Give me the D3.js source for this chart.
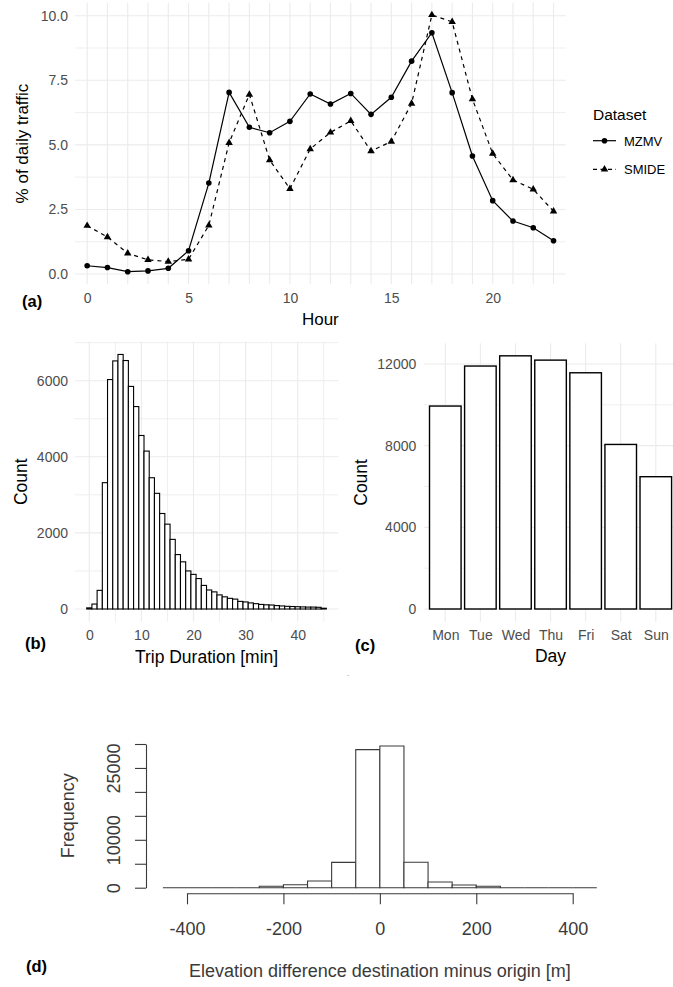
<!DOCTYPE html>
<html><head><meta charset="utf-8">
<script src="https://cdn.jsdelivr.net/npm/d3@7"></script>
<style>
body{margin:0;background:#fff}
svg{display:block;font-family:"Liberation Sans",Arial,Helvetica,sans-serif}
</style>
</head><body>
<svg id="chart" width="673" height="987"></svg>
<script>
// ---------- DATA ----------
const hours = [0,1,2,3,4,5,6,7,8,9,10,11,12,13,14,15,16,17,18,19,20,21,22,23];
const mzmv  = [0.32,0.25,0.09,0.12,0.22,0.90,3.52,7.03,5.68,5.47,5.91,6.97,6.58,6.99,6.18,6.84,8.24,9.34,7.02,4.57,2.84,2.05,1.79,1.29];
const smide = [1.87,1.43,0.80,0.55,0.48,0.57,1.88,5.08,6.95,4.41,3.30,4.84,5.48,5.93,4.76,5.13,6.60,10.03,9.76,6.77,4.66,3.64,3.28,2.43];
const hourTicks = [0,5,10,15,20];
const pctTicks = [0,2.5,5,7.5,10];

const durBins = [0,1,2,3,4,5,6,7,8,9,10,11,12,13,14,15,16,17,18,19,20,21,22,23,24,25,26,27,28,29,30,31,32,33,34,35,36,37,38,39,40,41,42,43,44,45];
const durCounts = [30,130,490,3320,6030,6520,6690,6530,5850,5320,4560,4150,3450,3040,2510,2230,1830,1430,1240,1000,910,800,620,500,450,370,320,280,260,200,185,160,140,120,110,105,90,80,70,65,60,55,50,50,45,20];
const durTicks = [0,10,20,30,40];
const countTicksB = [0,2000,4000,6000];

const days = ["Mon","Tue","Wed","Thu","Fri","Sat","Sun"];
const dayCounts = [9940,11900,12400,12190,11570,8060,6480];
const countTicksC = [0,4000,8000,12000];

const elevBinStart = [-450,-400,-350,-300,-250,-200,-150,-100,-50,0,50,100,150,200,250,300,350,400];
const elevCounts   = [0,0,0,0,290,620,1400,5280,28820,29580,5300,1200,560,290,0,0,0,0];
const elevTicks = [-400,-200,0,200,400];
const freqTicks = [0,5000,10000,15000,20000,25000,30000];
const freqLabels = [0,10000,25000];

// ---------- SETUP ----------
const svg = d3.select("#chart");
svg.append("rect").attr("width",673).attr("height",987).attr("fill","#fff");
const GRID = "#ebebeb", TICK = "#4d4d4d";

function hgrid(g, y, vals, x0, x1, w){
  g.selectAll(null).data(vals).enter().append("line")
    .attr("x1",x0).attr("x2",x1).attr("y1",d=>y(d)).attr("y2",d=>y(d))
    .attr("stroke",GRID).attr("stroke-width",w);
}
function vgrid(g, x, vals, y0, y1, w){
  g.selectAll(null).data(vals).enter().append("line")
    .attr("y1",y0).attr("y2",y1).attr("x1",d=>x(d)).attr("x2",d=>x(d))
    .attr("stroke",GRID).attr("stroke-width",w);
}
function styleAxis(g, size){
  g.select(".domain").remove();
  g.selectAll(".tick line").remove();
  g.selectAll("text").attr("fill",TICK).attr("font-size",size).attr("font-family","Liberation Sans, Arial, sans-serif");
}

// ---------- PANEL A ----------
const xA = d3.scaleLinear().domain([-0.6,23.6]).range([75,565.7]);
const yA = d3.scaleLinear().domain([0,10]).range([274,15.7]);
const gA = svg.append("g");
const minorPct = [1.25,3.75,6.25,8.75];
hgrid(gA, yA, minorPct, xA(-0.6), xA(23.6), 0.8);
hgrid(gA, yA, pctTicks, xA(-0.6), xA(23.6), 1.1);
vgrid(gA, xA, hours, yA(-0.4), yA(10.5), 1.1);

gA.append("g").attr("transform",`translate(${xA(-0.6)},0)`)
  .call(d3.axisLeft(yA).tickValues(pctTicks).tickFormat(d3.format(".1f")).tickSize(0).tickPadding(7))
  .call(g=>styleAxis(g,14));
gA.append("g").attr("transform",`translate(0,${yA(-0.4)})`)
  .call(d3.axisBottom(xA).tickValues(hourTicks).tickSize(0).tickPadding(9))
  .call(g=>styleAxis(g,14));

const lineA = (vals)=>d3.line().x((d,i)=>xA(hours[i])).y(d=>yA(d))(vals);
gA.append("path").attr("d",lineA(mzmv)).attr("fill","none").attr("stroke","#000").attr("stroke-width",1.2);
gA.append("path").attr("d",lineA(smide)).attr("fill","none").attr("stroke","#000").attr("stroke-width",1.2).attr("stroke-dasharray","4,4");
gA.selectAll(null).data(mzmv).enter().append("circle")
  .attr("cx",(d,i)=>xA(hours[i])).attr("cy",d=>yA(d)).attr("r",2.8).attr("fill","#000");
const tri = d3.symbol(d3.symbolTriangle, 24);
gA.selectAll(null).data(smide).enter().append("path")
  .attr("d",tri).attr("transform",(d,i)=>`translate(${xA(hours[i])},${yA(d)})`).attr("fill","#000");

gA.append("text").attr("x",(xA(-0.6)+xA(23.6))/2).attr("y",325).attr("text-anchor","middle").attr("font-size",17).text("Hour");
gA.append("text").attr("transform",`translate(28,${(yA(-0.4)+yA(10.5))/2}) rotate(-90)`).attr("text-anchor","middle").attr("font-size",17).text("% of daily traffic");
gA.append("text").attr("x",22).attr("y",307).attr("font-size",16.5).attr("font-weight","bold").text("(a)");

// legend
const lg = svg.append("g");
lg.append("text").attr("x",593).attr("y",120).attr("font-size",15.5).text("Dataset");
lg.append("line").attr("x1",593).attr("x2",616).attr("y1",140.7).attr("y2",140.7).attr("stroke","#000").attr("stroke-width",1.2);
lg.append("circle").attr("cx",604.5).attr("cy",140.7).attr("r",2.8).attr("fill","#000");
lg.append("text").attr("x",624).attr("y",145.5).attr("font-size",13).text("MZMV");
lg.append("line").attr("x1",593).attr("x2",616).attr("y1",169.3).attr("y2",169.3).attr("stroke","#000").attr("stroke-width",1.2).attr("stroke-dasharray","4,3.5");
lg.append("path").attr("d",tri).attr("transform","translate(604.5,169.3)").attr("fill","#000");
lg.append("text").attr("x",624).attr("y",174).attr("font-size",13).text("SMIDE");

// ---------- PANEL B ----------
const xB = d3.scaleLinear().domain([0,40]).range([89.3,297.7]);
const yB = d3.scaleLinear().domain([0,6000]).range([609,380.7]);
const gB = svg.append("g");
const bx0 = xB(-2.8), bx1 = xB(47.8), by0 = yB(-334), by1 = yB(7024);
hgrid(gB, yB, [1000,3000,5000,7000], bx0, bx1, 0.8);
hgrid(gB, yB, countTicksB, bx0, bx1, 1.1);
vgrid(gB, xB, [5,15,25,35,45], by0, by1, 0.8);
vgrid(gB, xB, durTicks, by0, by1, 1.1);
gB.append("g").attr("transform",`translate(${bx0},0)`)
  .call(d3.axisLeft(yB).tickValues(countTicksB).tickFormat(d3.format("d")).tickSize(0).tickPadding(6.7))
  .call(g=>styleAxis(g,14));
gB.append("g").attr("transform",`translate(0,${by0})`)
  .call(d3.axisBottom(xB).tickValues(durTicks).tickSize(0).tickPadding(8))
  .call(g=>styleAxis(g,14));
gB.selectAll(null).data(durCounts).enter().append("rect")
  .attr("x",(d,i)=>xB(durBins[i]-0.5)).attr("width",(d,i)=>xB(durBins[i]+0.5)-xB(durBins[i]-0.5))
  .attr("y",d=>yB(d)).attr("height",d=>yB(0)-yB(d))
  .attr("fill","#fff").attr("stroke","#000").attr("stroke-width",1.1);
gB.append("text").attr("x",(bx0+bx1)/2).attr("y",663).attr("text-anchor","middle").attr("font-size",17.5).text("Trip Duration [min]");
gB.append("text").attr("transform",`translate(27,${(by0+by1)/2}) rotate(-90)`).attr("text-anchor","middle").attr("font-size",17.5).text("Count");
gB.append("text").attr("x",25).attr("y",649).attr("font-size",16.5).attr("font-weight","bold").text("(b)");

// ---------- PANEL C ----------
const xC = d3.scalePoint().domain(days).range([445.3,655.8]);
const yC = d3.scaleLinear().domain([0,12000]).range([609,364]);
const gC = svg.append("g");
const cx0 = xC("Mon")-0.6*xC.step(), cx1 = xC("Sun")+0.6*xC.step(), cy0 = yC(-620), cy1 = yC(13020);
hgrid(gC, yC, [2000,6000,10000], cx0, cx1, 0.8);
hgrid(gC, yC, countTicksC, cx0, cx1, 1.1);
vgrid(gC, xC, days, cy0, cy1, 1.1);
gC.append("g").attr("transform",`translate(${cx0},0)`)
  .call(d3.axisLeft(yC).tickValues(countTicksC).tickFormat(d3.format("d")).tickSize(0).tickPadding(8))
  .call(g=>styleAxis(g,14));
gC.append("g").attr("transform",`translate(0,${cy0})`)
  .call(d3.axisBottom(xC).tickSize(0).tickPadding(8))
  .call(g=>styleAxis(g,14));
const bw = xC.step()*0.9;
gC.selectAll(null).data(dayCounts).enter().append("rect")
  .attr("x",(d,i)=>xC(days[i])-bw/2).attr("width",bw)
  .attr("y",d=>yC(d)).attr("height",d=>yC(0)-yC(d))
  .attr("fill","#fff").attr("stroke","#000").attr("stroke-width",1.4);
gC.append("text").attr("x",(cx0+cx1)/2).attr("y",662).attr("text-anchor","middle").attr("font-size",17.5).text("Day");
gC.append("text").attr("transform",`translate(367,${(cy0+cy1)/2}) rotate(-90)`).attr("text-anchor","middle").attr("font-size",17.5).text("Count");
gC.append("text").attr("x",355).attr("y",651).attr("font-size",16.5).attr("font-weight","bold").text("(c)");
svg.append("text").attr("x",347).attr("y",676).attr("font-size",8).attr("fill","#777").text(".");

// ---------- PANEL D ----------
const xD = d3.scaleLinear().domain([-400,400]).range([187,572.7]);
const yD = d3.scaleLinear().domain([0,30000]).range([887.7,744]);
const gD = svg.append("g");
const DC = "#3a3a3a";
gD.selectAll(null).data(elevCounts).enter().append("path")
  .attr("d",(d,i)=>{const a=xD(elevBinStart[i]), b=xD(elevBinStart[i]+50), y0=yD(0), y1=yD(d);
     return `M${a},${y0}V${y1}H${b}V${y0}Z`;})
  .attr("fill","#fff").attr("stroke",DC).attr("stroke-width",1.1);
const ay = gD.append("g").attr("transform","translate(146,0)")
  .call(d3.axisLeft(yD).tickValues(freqTicks).tickSize(11).tickSizeOuter(0)
     .tickFormat(d=>freqLabels.includes(d)?String(d):""));
ay.select(".domain").attr("stroke",DC).attr("stroke-width",1.1);
ay.selectAll(".tick line").attr("stroke",DC).attr("stroke-width",1.1);
ay.selectAll("text").attr("transform","rotate(-90)").attr("x",0).attr("y",-26).attr("dy",0)
  .attr("text-anchor","middle").attr("fill",DC).attr("font-size",18).attr("font-family","Liberation Sans, Arial, sans-serif");
const ax = gD.append("g").attr("transform","translate(0,893.3)")
  .call(d3.axisBottom(xD).tickValues(elevTicks).tickSize(11).tickSizeOuter(0).tickFormat(d=>String(d)));
ax.select(".domain").attr("stroke",DC).attr("stroke-width",1.1);
ax.selectAll(".tick line").attr("stroke",DC).attr("stroke-width",1.1);
ax.selectAll("text").attr("y",42).attr("dy",0).attr("fill",DC).attr("font-size",18).attr("font-family","Liberation Sans, Arial, sans-serif");
gD.append("text").attr("x",(xD(-450)+xD(450))/2).attr("y",977).attr("text-anchor","middle").attr("font-size",18).attr("fill",DC).text("Elevation difference destination minus origin [m]");
gD.append("text").attr("transform",`translate(74,${(yD(0)+yD(30000))/2-0}) rotate(-90)`).attr("text-anchor","middle").attr("font-size",18).attr("fill",DC).text("Frequency");
gD.append("text").attr("x",26).attr("y",972).attr("font-size",16.5).attr("font-weight","bold").text("(d)");
</script>
</body></html>
